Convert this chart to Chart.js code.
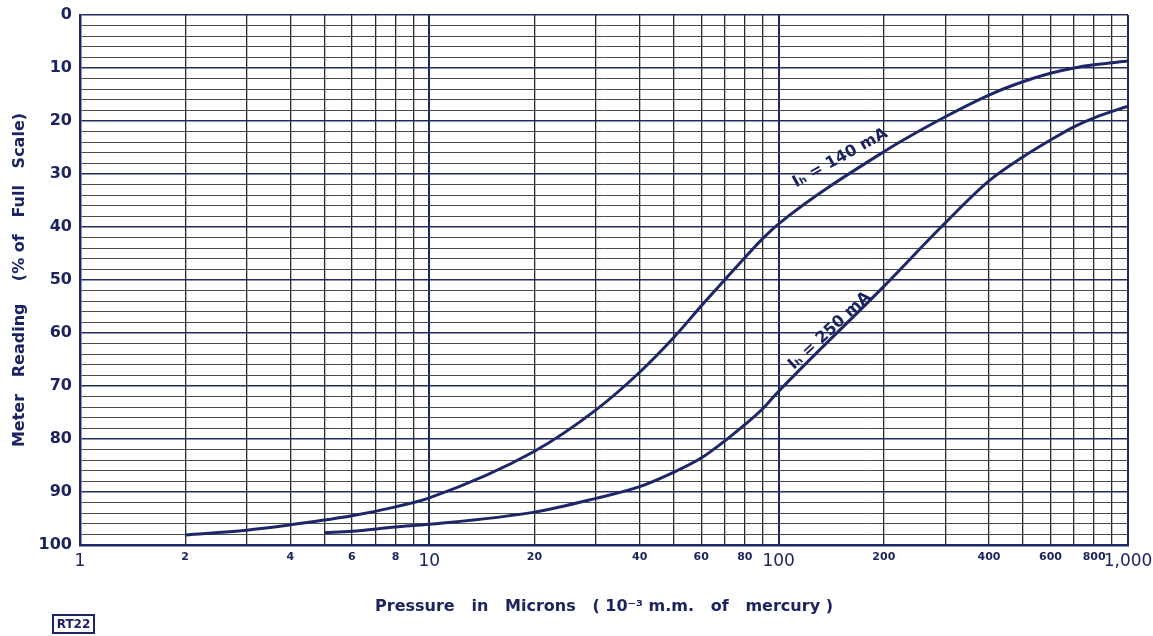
<!DOCTYPE html>
<html>
<head>
<meta charset="utf-8">
<script src="https://cdn.jsdelivr.net/npm/chart.js@4.4.1/dist/chart.umd.min.js"></script>
<style>
  html, body { margin: 0; padding: 0; background: #ffffff; }
  #wrap { width: 1153px; height: 636px; position: relative; }
</style>
</head>
<body>
<div id="wrap"><canvas id="c" width="1153" height="636"></canvas></div>
<script>
// ---- data ----
const pressure140 = [2, 3, 4, 5, 6, 8, 10, 20, 30, 40, 50, 60, 70, 80, 90, 100, 200, 300, 400, 500, 600, 700, 800, 1000];
const reading140  = [98.1, 97.2, 96.2, 95.3, 94.5, 92.8, 91.1, 82.3, 74.5, 67.4, 60.9, 54.9, 50.0, 45.8, 42.2, 39.4, 25.8, 19.2, 15.1, 12.6, 11.0, 10.0, 9.4, 8.7];

const pressure250 = [5, 6, 8, 10, 20, 30, 40, 50, 60, 70, 80, 90, 100, 200, 300, 400, 500, 600, 700, 800, 1000];
const reading250  = [97.7, 97.4, 96.6, 96.1, 93.8, 91.2, 89.0, 86.3, 83.6, 80.4, 77.3, 74.3, 71.0, 51.2, 39.2, 31.3, 26.8, 23.6, 21.1, 19.4, 17.2];

const xGridValues  = [1,2,3,4,5,6,7,8,9,10,20,30,40,50,60,70,80,90,100,200,300,400,500,600,700,800,900,1000];
const xLabelValues = [1, 2, 4, 6, 8, 10, 20, 40, 60, 80, 100, 200, 400, 600, 800, 1000];
const xLabelTexts  = ['1','2','4','6','8','10','20','40','60','80','100','200','400','600','800','1,000'];
const xDecades     = [1, 10, 100, 1000];

const yLabelValues = [0, 10, 20, 30, 40, 50, 60, 70, 80, 90, 100];
const yLabelTexts  = ['0','10','20','30','40','50','60','70','80','90','100'];

const seriesNames = ['Iₕ = 140 mA', 'Iₕ = 250 mA'];

// ---- styling ----
const NAVY = '#1d2768';
const INK = '#1b2460';

function toPoints(xs, ys) { return xs.map((x, i) => ({ x: x, y: ys[i] })); }

const curveLabels = {
  id: 'curveLabels',
  afterDatasetsDraw(chart) {
    const { ctx, scales } = chart;
    const items = [
      { text: seriesNames[0], px: 150, rd: 27.0, ang: -29 },
      { text: seriesNames[1], px: 140, rd: 59.6, ang: -43 }
    ];
    ctx.save();
    ctx.fillStyle = INK;
    ctx.font = 'bold 16px "DejaVu Sans"';
    ctx.textAlign = 'center';
    ctx.textBaseline = 'middle';
    items.forEach(it => {
      const x = scales.x.getPixelForValue(it.px);
      const y = scales.y.getPixelForValue(it.rd);
      ctx.save();
      ctx.translate(x, y);
      ctx.rotate(it.ang * Math.PI / 180);
      ctx.fillText(it.text, 0, 0);
      ctx.restore();
    });
    // figure reference tag
    ctx.strokeStyle = INK;
    ctx.lineWidth = 2;
    ctx.strokeRect(53, 615, 41, 18);
    ctx.font = 'bold 12px "DejaVu Sans"';
    ctx.fillText('RT22', 73.5, 624.5);
    ctx.restore();
  }
};

new Chart(document.getElementById('c'), {
  type: 'line',
  data: {
    datasets: [
      { label: seriesNames[0], data: toPoints(pressure140, reading140), borderColor: NAVY, borderWidth: 3,
        pointRadius: 0, cubicInterpolationMode: 'monotone', fill: false },
      { label: seriesNames[1], data: toPoints(pressure250, reading250), borderColor: NAVY, borderWidth: 3,
        pointRadius: 0, cubicInterpolationMode: 'monotone', fill: false }
    ]
  },
  options: {
    responsive: false,
    animation: false,
    devicePixelRatio: 1,
    layout: { padding: { top: 15, right: 25, bottom: 0, left: 0 } },
    plugins: { legend: { display: false }, tooltip: { enabled: false } },
    scales: {
      x: {
        type: 'logarithmic',
        min: 1, max: 1000,
        afterBuildTicks(scale) { scale.ticks = xGridValues.map(v => ({ value: v })); },
        afterFit(scale) { scale.height = 91; scale.paddingRight = 0; scale.paddingLeft = 0; },
        border: { display: true, color: NAVY, width: 2.5 },
        grid: {
          drawTicks: false,
          color: ctx => xDecades.includes(ctx.tick && ctx.tick.value) ? NAVY : '#2a2a2a',
          lineWidth: ctx => xDecades.includes(ctx.tick && ctx.tick.value) ? 2 : 1.3
        },
        ticks: {
          autoSkip: false, maxRotation: 0, minRotation: 0, padding: 6,
          color: INK,
          font: ctx => xDecades.includes(ctx.tick && ctx.tick.value)
            ? { family: '"DejaVu Sans"', size: 17, weight: 'normal' }
            : { family: '"DejaVu Sans"', size: 11, weight: 'bold' },
          callback: v => { const i = xLabelValues.indexOf(v); return i >= 0 ? xLabelTexts[i] : ''; }
        },
        title: {
          display: true,
          text: 'Pressure   in   Microns   ( 10⁻³ m.m.   of   mercury )',
          color: INK,
          font: { family: '"DejaVu Sans"', size: 16, weight: 'bold' },
          padding: { top: 0, bottom: 20 }
        }
      },
      y: {
        type: 'linear',
        min: 0, max: 100, reverse: true,
        afterFit(scale) { scale.width = 80; scale.paddingTop = 0; scale.paddingBottom = 0; },
        border: { display: true, color: NAVY, width: 2.5 },
        grid: {
          drawTicks: false,
          color: ctx => (ctx.tick && ctx.tick.value % 10 === 0) ? '#232c5c' : '#4a4a4a',
          lineWidth: ctx => (ctx.tick && ctx.tick.value % 10 === 0) ? 1.4 : 1
        },
        ticks: {
          stepSize: 2, autoSkip: false, padding: 8,
          color: INK,
          font: { family: '"DejaVu Sans"', size: 16, weight: 'bold' },
          callback: v => { const i = yLabelValues.indexOf(v); return i >= 0 ? yLabelTexts[i] : ''; }
        },
        title: {
          display: true,
          text: 'Meter   Reading    (% of   Full   Scale)',
          color: INK,
          font: { family: '"DejaVu Sans"', size: 16, weight: 'bold' },
          padding: { top: 10, bottom: 0 }
        }
      }
    }
  },
  plugins: [curveLabels]
});
</script>
</body>
</html>
